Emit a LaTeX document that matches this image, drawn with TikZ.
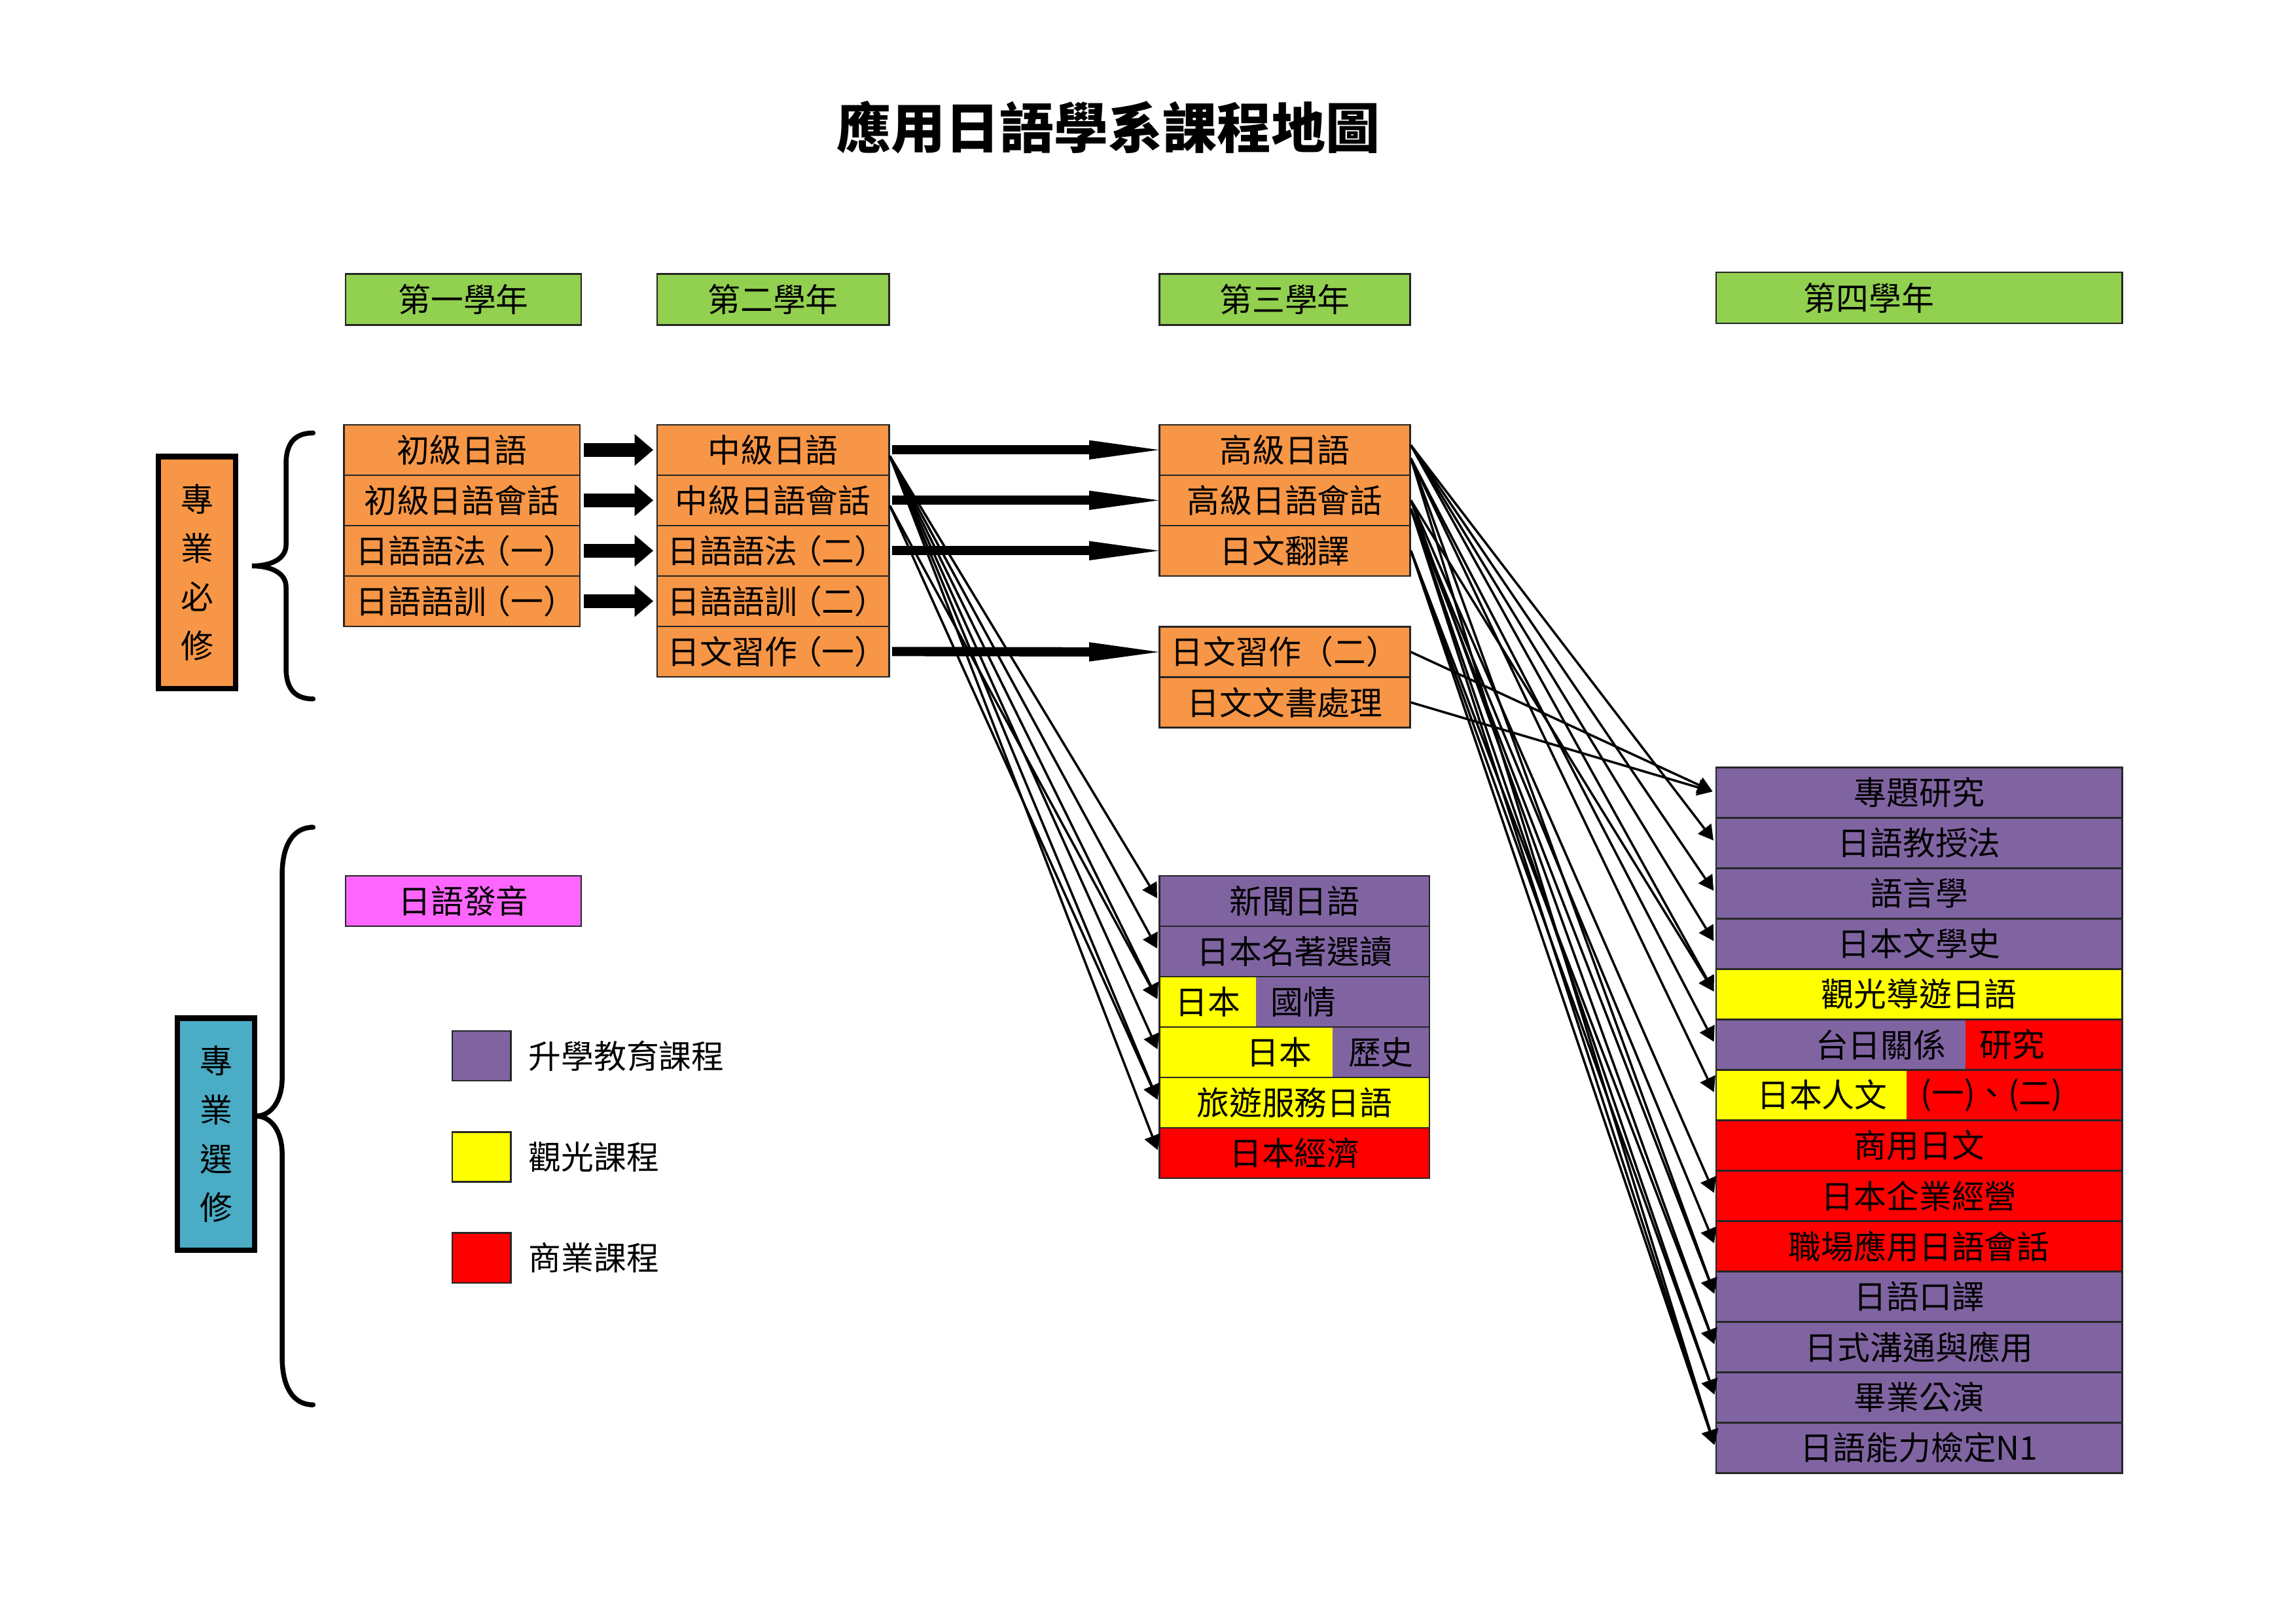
\documentclass[tikz,border=0pt]{standalone}
\usepackage{fontspec}
\setmainfont{Noto Sans CJK TC}
\usepackage{tikz}
\usetikzlibrary{positioning, arrows.meta}
\definecolor{JOrange}{RGB}{247,150,70}
\definecolor{JGreen}{RGB}{146,208,80}
\definecolor{JPurple}{RGB}{128,100,162}
\definecolor{JYellow}{RGB}{255,255,0}
\definecolor{JRed}{RGB}{255,0,0}
\definecolor{JPink}{RGB}{255,102,255}
\definecolor{JTeal}{RGB}{75,172,198}
\newcommand{\kakko}[1]{\kern-0.25em（#1）\kern-0.25em}

\begin{document}
\begin{tikzpicture}[
          crs/.style={rectangle, draw=black!85, line width=0.6pt, inner sep=0pt,
                      minimum height=0.652cm, font=\fontsize{12}{14}\selectfont},
          yr/.style={crs, fill=JGreen, minimum height=0.66cm},
          req/.style={crs, fill=JOrange},
          c1/.style={minimum width=3.05cm},
          c2/.style={minimum width=3.0cm},
          c3/.style={minimum width=3.24cm},
          c3e/.style={minimum width=3.49cm},
          c4/.style={minimum width=5.25cm},
          grp/.style={rectangle, draw=black, line width=2pt, inner sep=0pt,
                      minimum width=1.0cm, minimum height=3.0cm, align=center,
                      font=\fontsize{12}{18}\selectfont},
          lbl/.style={inner sep=0pt, font=\fontsize{12}{14}\selectfont},
          leftfill/.style 2 args={path picture={\fill[#1]
                      (path picture bounding box.south west) rectangle
                      ([xshift=#2]path picture bounding box.north west);}},
          brc/.style={line width=1.8pt, line cap=round},
          blk/.style={-{Triangle[length=2.4mm, width=4.1mm, line width=0pt]},
                      line width=1.78mm, shorten <=0.04cm, shorten >=0.04cm},
          fat/.style={-{Triangle[length=9mm, width=2.5mm, line width=0pt]},
                      line width=3.4pt, shorten <=0.03cm},
          arr/.style={-{Triangle[length=1.9mm, width=2.2mm, line width=0pt]},
                      line width=0.85pt, shorten >=1.2pt}
        ]
        \fill[white] (0,0) rectangle (29.7,21);

        \node[font=\fontsize{20}{24}\selectfont\bfseries] (ttl) at (14.34,19.35)
              {應用日語學系課程地圖};

        % Year headers
        \node[yr, c1] (y1) at (5.995,17.127) {第一學年};
        \node[yr, c2] (y2) at (10.0,17.127)  {第二學年};
        \node[yr, c3] (y3) at (16.62,17.127) {第三學年};
        \node[yr, c4] (y4) at (24.825,17.146) {};
        \node[lbl] (y4t) at ([xshift=-0.65cm]y4.center) {第四學年};

        % Required courses
        \node[req, c1] (r1) at (5.975,15.181) {初級日語};
        \node[req, c1] (r2) at (5.975,14.529) {初級日語會話};
        \node[req, c1] (r3) at (5.975,13.877) {日語語法\kakko{一}};
        \node[req, c1] (r4) at (5.975,13.225) {日語語訓\kakko{一}};

        \node[req, c2] (m1) at (10.0,15.181) {中級日語};
        \node[req, c2] (m2) at (10.0,14.529) {中級日語會話};
        \node[req, c2] (m3) at (10.0,13.877) {日語語法\kakko{二}};
        \node[req, c2] (m4) at (10.0,13.225) {日語語訓\kakko{二}};
        \node[req, c2] (m5) at (10.0,12.573) {日文習作\kakko{一}};

        \node[req, c3] (h1) at (16.62,15.181) {高級日語};
        \node[req, c3] (h2) at (16.62,14.529) {高級日語會話};
        \node[req, c3] (h3) at (16.62,13.877) {日文翻譯};
        \node[req, c3] (h4) at (16.62,12.567) {日文習作（二）};
        \node[req, c3] (h5) at (16.62,11.915) {日文文書處理};

        % Group labels and braces
        \node[grp, fill=JOrange] (gr1) at (2.548,13.595) {專\\業\\必\\修};
        \node[grp, fill=JTeal]   (gr2) at (2.795,6.33)   {專\\業\\選\\修};

        \draw[brc] (4.05,15.40) .. controls (3.80,15.40) and (3.70,15.25) .. (3.70,15.00)
              -- (3.70,13.95) .. controls (3.70,13.78) and (3.52,13.68) .. (3.26,13.68)
              .. controls (3.52,13.68) and (3.70,13.58) .. (3.70,13.41)
              -- (3.70,12.36) .. controls (3.70,12.11) and (3.80,11.96) .. (4.05,11.96);
        \draw[brc] (4.05,10.30) .. controls (3.78,10.30) and (3.65,10.05) .. (3.65,9.69)
              -- (3.65,7.06) .. controls (3.65,6.75) and (3.50,6.565) .. (3.31,6.565)
              .. controls (3.50,6.565) and (3.65,6.38) .. (3.65,6.07)
              -- (3.65,3.44) .. controls (3.65,3.08) and (3.78,2.83) .. (4.05,2.83);

        % Electives
        \node[crs, c1, fill=JPink] (pr) at (5.995,9.347) {日語發音};

        \node[crs, c3e, fill=JPurple] (e1) at (16.745,9.347) {新聞日語};
        \node[crs, c3e, fill=JPurple] (e2) at (16.745,8.695) {日本名著選讀};
        \node[crs, c3e, fill=JPurple, leftfill={JYellow}{1.25cm}] (e3) at (16.745,8.043) {};
        \node[lbl, anchor=east] (e3a) at ([xshift=1.06cm]e3.west) {日本};
        \node[lbl, anchor=west] (e3b) at ([xshift=1.44cm]e3.west) {國情};
        \node[crs, c3e, fill=JPurple, leftfill={JYellow}{2.235cm}] (e4) at (16.745,7.391) {};
        \node[lbl, anchor=east] (e4a) at ([xshift=1.985cm]e4.west) {日本};
        \node[lbl, anchor=west] (e4b) at ([xshift=2.445cm]e4.west) {歷史};
        \node[crs, c3e, fill=JYellow] (e5) at (16.745,6.739) {旅遊服務日語};
        \node[crs, c3e, fill=JRed]    (e6) at (16.745,6.087) {日本經濟};

        \node[crs, c4, fill=JPurple] (f1) at (24.825,10.749) {專題研究};
        \node[crs, c4, fill=JPurple] (f2) at (24.825,10.097) {日語教授法};
        \node[crs, c4, fill=JPurple] (f3) at (24.825,9.445)  {語言學};
        \node[crs, c4, fill=JPurple] (f4) at (24.825,8.793)  {日本文學史};
        \node[crs, c4, fill=JYellow] (f5) at (24.825,8.141)  {觀光導遊日語};
        \node[crs, c4, fill=JRed, leftfill={JPurple}{3.22cm}] (f6) at (24.825,7.489) {};
        \node[lbl, anchor=east] (f6a) at ([xshift=2.99cm]f6.west) {台日關係};
        \node[lbl, anchor=west] (f6b) at ([xshift=3.41cm]f6.west) {研究};
        \node[crs, c4, fill=JRed, leftfill={JYellow}{2.462cm}] (f7) at (24.825,6.837) {};
        \node[lbl, anchor=east] (f7a) at ([xshift=2.23cm]f7.west) {日本人文};
        \node[lbl, anchor=west] (f7b) at ([xshift=2.65cm]f7.west) {(一)、(二)};
        \node[crs, c4, fill=JRed]    (f8)  at (24.825,6.185) {商用日文};
        \node[crs, c4, fill=JRed]    (f9)  at (24.825,5.533) {日本企業經營};
        \node[crs, c4, fill=JRed]    (f10) at (24.825,4.881) {職場應用日語會話};
        \node[crs, c4, fill=JPurple] (f11) at (24.825,4.229) {日語口譯};
        \node[crs, c4, fill=JPurple] (f12) at (24.825,3.577) {日式溝通與應用};
        \node[crs, c4, fill=JPurple] (f13) at (24.825,2.925) {畢業公演};
        \node[crs, c4, fill=JPurple] (f14) at (24.825,2.273) {日語能力檢定N1};

        % Legend
        \node[crs, fill=JPurple, minimum width=0.76cm, minimum height=0.644cm] (lg1) at (6.23,7.344) {};
        \node[crs, fill=JYellow, minimum width=0.76cm, minimum height=0.644cm] (lg2) at (6.23,6.037) {};
        \node[crs, fill=JRed,    minimum width=0.76cm, minimum height=0.644cm] (lg3) at (6.23,4.73)  {};
        \node[lbl, right=0.21cm of lg1] (lt1) {升學教育課程};
        \node[lbl, right=0.21cm of lg2] (lt2) {觀光課程};
        \node[lbl, right=0.21cm of lg3] (lt3) {商業課程};

        % Year one to year two
        \draw[blk] (r1.east) -- (m1.west);
        \draw[blk] (r2.east) -- (m2.west);
        \draw[blk] (r3.east) -- (m3.west);
        \draw[blk] (r4.east) -- (m4.west);

        % Year two to year three
        \coordinate (m1s) at ([yshift=-0.08cm]m1.east);
        \coordinate (m2s) at ([yshift=-0.07cm]m2.east);
        \draw[arr] (m1s) -- (e1.west);
        \draw[arr] (m1s) -- (e2.west);
        \draw[arr] (m1s) -- (e3.west);
        \draw[arr] (m1s) -- (e4.west);
        \draw[arr] (m1s) -- (e5.west);
        \draw[arr] (m1s) -- (e6.west);
        \draw[arr] (m2s) -- (e3.west);
        \draw[arr] (m2s) -- (e5.west);

        \draw[fat] (m1.east) -- (h1.west);
        \draw[fat] (m2.east) -- (h2.west);
        \draw[fat] (m3.east) -- (h3.west);
        \draw[fat] (m5.east) -- (h4.west);

        % Year three to year four
        \coordinate (h1a) at ([yshift=0.06cm]h1.east);
        \coordinate (h1b) at ([yshift=-0.11cm]h1.east);
        \coordinate (h2a) at (h2.east);
        \coordinate (h2b) at ([yshift=-0.11cm]h2.east);
        \draw[arr] (h1a) -- (f2.west);
        \draw[arr] (h1a) -- (f3.west);
        \draw[arr] (h1a) -- (f4.west);
        \draw[arr] (h1a) -- (f5.west);
        \draw[arr] (h1b) -- (f6.west);
        \draw[arr] (h1b) -- (f7.west);
        \draw[arr] (h1b) -- (f11.west);
        \draw[arr] (h1b) -- (f14.west);
        \draw[arr] (h2a) -- (f9.west);
        \draw[arr] (h2a) -- (f12.west);
        \draw[arr] (h2a) -- (f5.west);
        \draw[arr] (h2b) -- (f10.west);
        \draw[arr] (h2b) -- (f11.west);
        \draw[arr] (h2b) -- (f13.west);
        \draw[arr] (h2b) -- (f14.west);
        \draw[arr] (h3.east) -- (f12.west);
        \draw[arr] (h3.east) -- (f13.west);
        \draw[arr] (h3.east) -- (f14.west);
        \draw[arr] (h4.east) -- (f1.west);
        \draw[arr] (h5.east) -- (f1.west);
      \end{tikzpicture}
\end{document}
